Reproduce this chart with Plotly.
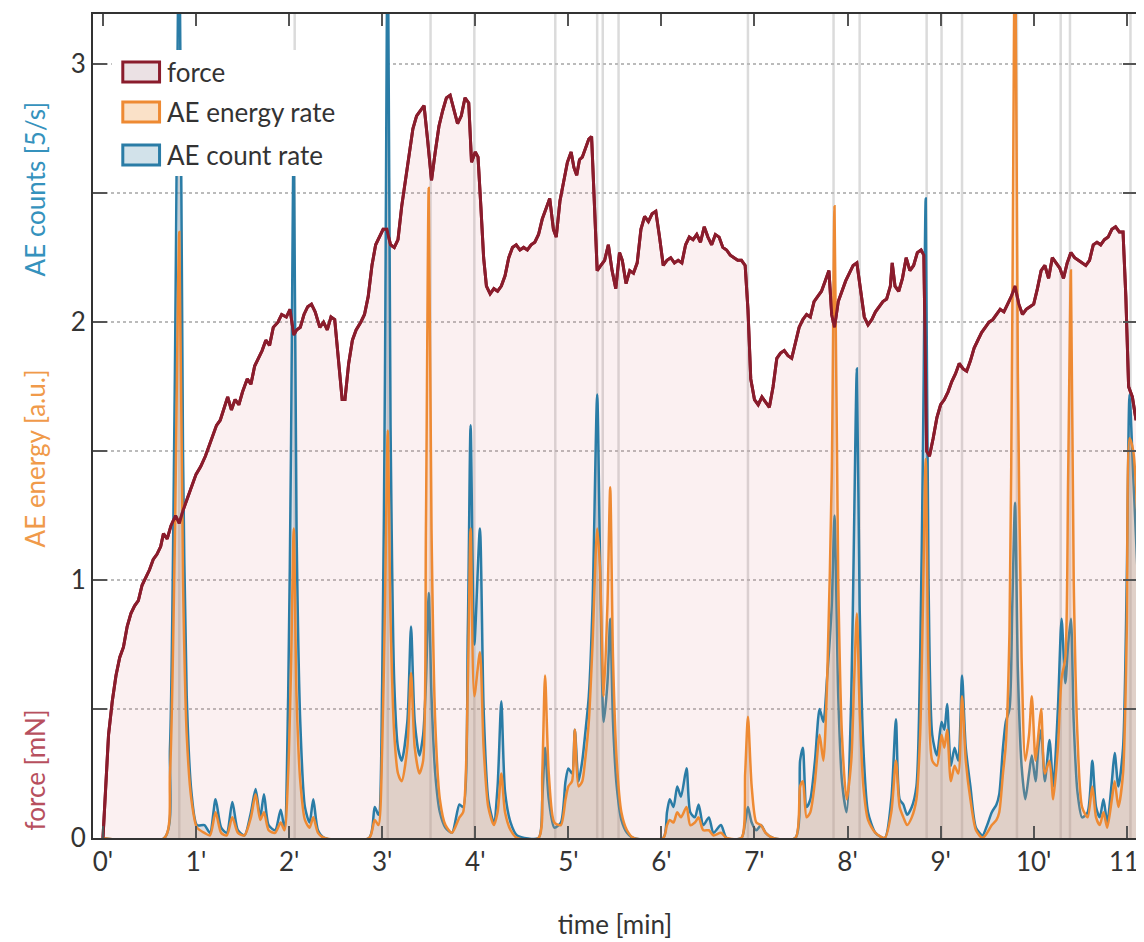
import plotly.graph_objects as go

# ---------------- data ----------------
force_time = [
    0.00, 0.03, 0.06, 0.10, 0.14, 0.18, 0.22, 0.26, 0.30, 0.34,
    0.38, 0.42, 0.46, 0.50, 0.54, 0.58, 0.62, 0.65, 0.69, 0.73,
    0.78, 0.82, 0.86, 0.90, 0.95, 1.00, 1.05, 1.10, 1.14, 1.18,
    1.22, 1.26, 1.30, 1.34, 1.38, 1.42, 1.46, 1.50, 1.55, 1.59,
    1.63, 1.67, 1.71, 1.75, 1.79, 1.83, 1.88, 1.92, 1.97, 2.01,
    2.05, 2.08, 2.12, 2.16, 2.20, 2.24, 2.28, 2.33, 2.37, 2.41,
    2.45, 2.49, 2.53, 2.57, 2.60, 2.64, 2.68, 2.72, 2.77, 2.81,
    2.85, 2.89, 2.93, 2.97, 3.01, 3.05, 3.09, 3.13, 3.17, 3.21,
    3.25, 3.29, 3.33, 3.37, 3.41, 3.45, 3.49, 3.53, 3.57, 3.61,
    3.65, 3.69, 3.73, 3.77, 3.81, 3.85, 3.89, 3.93, 3.96, 4.00,
    4.03, 4.06, 4.09, 4.12, 4.16, 4.20, 4.24, 4.28, 4.32, 4.36,
    4.40, 4.44, 4.48, 4.52, 4.56, 4.60, 4.64, 4.68, 4.72, 4.76,
    4.80, 4.84, 4.87, 4.91, 4.95, 4.99, 5.03, 5.06, 5.09, 5.12,
    5.15, 5.19, 5.22, 5.25, 5.28, 5.31, 5.35, 5.39, 5.43, 5.47,
    5.51, 5.55, 5.58, 5.62, 5.66, 5.70, 5.74, 5.78, 5.82, 5.86,
    5.90, 5.94, 5.98, 6.02, 6.06, 6.10, 6.14, 6.18, 6.22, 6.26,
    6.30, 6.34, 6.38, 6.42, 6.46, 6.50, 6.54, 6.58, 6.62, 6.66,
    6.70, 6.74, 6.78, 6.82, 6.86, 6.90, 6.93, 6.96, 7.00, 7.04,
    7.08, 7.12, 7.16, 7.20, 7.24, 7.28, 7.32, 7.36, 7.40, 7.44,
    7.48, 7.52, 7.56, 7.60, 7.64, 7.68, 7.72, 7.76, 7.80, 7.83,
    7.86, 7.90, 7.94, 7.98, 8.02, 8.06, 8.10, 8.14, 8.18, 8.22,
    8.26, 8.30, 8.34, 8.38, 8.42, 8.46, 8.48, 8.51, 8.55, 8.59,
    8.63, 8.67, 8.71, 8.75, 8.79, 8.82, 8.85, 8.88, 8.92, 8.96,
    9.00, 9.04, 9.08, 9.12, 9.16, 9.20, 9.24, 9.28, 9.32, 9.36,
    9.40, 9.44, 9.48, 9.52, 9.56, 9.60, 9.64, 9.68, 9.72, 9.76,
    9.80, 9.84, 9.88, 9.92, 9.96, 10.00, 10.04, 10.08, 10.12, 10.16,
    10.20, 10.24, 10.28, 10.32, 10.36, 10.40, 10.44, 10.48, 10.52, 10.56,
    10.60, 10.64, 10.68, 10.72, 10.76, 10.80, 10.84, 10.88, 10.92, 10.96,
    10.99, 11.02, 11.06, 11.10,
]
force_mN = [
    0.00, 0.22, 0.40, 0.53, 0.63, 0.70, 0.74, 0.82, 0.87, 0.90,
    0.92, 0.98, 1.01, 1.04, 1.08, 1.10, 1.13, 1.18, 1.16, 1.21,
    1.25, 1.22, 1.27, 1.31, 1.36, 1.41, 1.44, 1.48, 1.52, 1.56,
    1.60, 1.62, 1.67, 1.71, 1.66, 1.70, 1.68, 1.73, 1.78, 1.76,
    1.83, 1.86, 1.89, 1.93, 1.91, 1.98, 2.00, 2.03, 2.02, 2.05,
    1.95, 1.97, 1.98, 2.03, 2.06, 2.07, 2.04, 1.98, 2.00, 1.97,
    2.02, 2.01, 1.85, 1.70, 1.70, 1.84, 1.93, 1.97, 2.00, 2.03,
    2.10, 2.22, 2.30, 2.33, 2.36, 2.36, 2.30, 2.29, 2.32, 2.45,
    2.55, 2.65, 2.75, 2.80, 2.82, 2.84, 2.70, 2.55, 2.66, 2.76,
    2.82, 2.87, 2.88, 2.82, 2.77, 2.80, 2.87, 2.85, 2.62, 2.66,
    2.64, 2.45, 2.25, 2.14, 2.11, 2.13, 2.12, 2.14, 2.18, 2.25,
    2.29, 2.30, 2.28, 2.29, 2.28, 2.30, 2.31, 2.34, 2.40, 2.44,
    2.48, 2.36, 2.33, 2.47, 2.55, 2.62, 2.66, 2.60, 2.57, 2.63,
    2.64, 2.68, 2.71, 2.72, 2.45, 2.20, 2.22, 2.24, 2.30, 2.20,
    2.13, 2.27, 2.24, 2.15, 2.20, 2.19, 2.23, 2.36, 2.41, 2.39,
    2.42, 2.43, 2.33, 2.22, 2.24, 2.25, 2.23, 2.24, 2.23, 2.30,
    2.33, 2.32, 2.34, 2.31, 2.37, 2.33, 2.30, 2.34, 2.33, 2.29,
    2.28, 2.26, 2.25, 2.24, 2.24, 2.22, 2.05, 1.78, 1.70, 1.68,
    1.71, 1.69, 1.67, 1.75, 1.86, 1.88, 1.89, 1.87, 1.86, 1.92,
    1.98, 2.01, 2.03, 2.02, 2.08, 2.10, 2.12, 2.16, 2.20, 2.03,
    1.98, 2.08, 2.12, 2.16, 2.19, 2.22, 2.23, 2.12, 2.02, 1.99,
    2.01, 2.04, 2.06, 2.08, 2.09, 2.14, 2.23, 2.14, 2.12, 2.17,
    2.25, 2.20, 2.22, 2.27, 2.28, 2.26, 1.50, 1.48, 1.55, 1.63,
    1.68, 1.70, 1.73, 1.77, 1.80, 1.84, 1.82, 1.81, 1.85, 1.90,
    1.93, 1.96, 1.98, 2.00, 2.01, 2.03, 2.05, 2.04, 2.07, 2.10,
    2.14, 2.07, 2.03, 2.05, 2.06, 2.07, 2.13, 2.20, 2.22, 2.17,
    2.25, 2.23, 2.21, 2.17, 2.23, 2.27, 2.25, 2.24, 2.23, 2.22,
    2.24, 2.30, 2.31, 2.30, 2.32, 2.33, 2.36, 2.37, 2.35, 2.35,
    2.10, 1.75, 1.71, 1.62,
]

ae_time = [
    0.00, 0.66, 0.72, 0.77, 0.82, 0.86, 0.90, 0.95, 1.01, 1.09,
    1.15, 1.21, 1.27, 1.33, 1.39, 1.45, 1.52, 1.59, 1.64, 1.69,
    1.73, 1.78, 1.85, 1.91, 1.95, 1.99, 2.02, 2.05, 2.08, 2.12,
    2.17, 2.22, 2.26, 2.31, 2.38, 2.86, 2.92, 2.96, 3.00, 3.03,
    3.06, 3.09, 3.13, 3.17, 3.21, 3.27, 3.31, 3.35, 3.40, 3.44,
    3.47, 3.50, 3.53, 3.57, 3.62, 3.68, 3.75, 3.83, 3.87, 3.92,
    3.95, 3.99, 4.05, 4.09, 4.14, 4.20, 4.24, 4.28, 4.32, 4.38,
    4.45, 4.68, 4.72, 4.75, 4.79, 4.85, 4.92, 4.97, 5.00, 5.04,
    5.07, 5.11, 5.15, 5.18, 5.22, 5.26, 5.31, 5.34, 5.38, 5.42,
    5.45, 5.48, 5.52, 5.57, 5.63, 5.70, 6.02, 6.06, 6.09, 6.13,
    6.17, 6.21, 6.27, 6.31, 6.36, 6.40, 6.45, 6.51, 6.56, 6.64,
    6.70, 6.86, 6.90, 6.93, 6.97, 7.02, 7.07, 7.12, 7.20, 7.44,
    7.49, 7.52, 7.56, 7.60, 7.65, 7.70, 7.74, 7.78, 7.83, 7.86,
    7.90, 7.94, 7.99, 8.04, 8.07, 8.10, 8.13, 8.17, 8.22, 8.30,
    8.40, 8.47, 8.52, 8.56, 8.60, 8.64, 8.69, 8.74, 8.78, 8.81,
    8.84, 8.87, 8.91, 8.96, 9.01, 9.04, 9.07, 9.11, 9.15, 9.19,
    9.23, 9.27, 9.32, 9.38, 9.45, 9.50, 9.55, 9.60, 9.63, 9.67,
    9.70, 9.74, 9.77, 9.80, 9.83, 9.87, 9.91, 9.95, 9.98, 10.02,
    10.05, 10.08, 10.12, 10.17, 10.21, 10.26, 10.30, 10.34, 10.37, 10.40,
    10.43, 10.47, 10.52, 10.58, 10.63, 10.67, 10.71, 10.75, 10.79, 10.84,
    10.87, 10.91, 10.96, 11.00, 11.03, 11.07, 11.12,
]
ae_energy = [
    0.00, 0.00, 0.25, 1.10, 2.35, 1.00, 0.40, 0.15, 0.04, 0.02,
    0.01, 0.10, 0.02, 0.01, 0.08, 0.02, 0.01, 0.08, 0.17, 0.07,
    0.10, 0.03, 0.02, 0.06, 0.03, 0.25, 0.65, 1.20, 0.55, 0.22,
    0.07, 0.04, 0.08, 0.02, 0.00, 0.00, 0.07, 0.05, 0.35, 0.90,
    1.58, 0.85, 0.40, 0.25, 0.22, 0.35, 0.64, 0.35, 0.25, 0.30,
    1.20, 2.52, 1.20, 0.45, 0.15, 0.05, 0.02, 0.08, 0.10, 0.60,
    1.20, 0.55, 0.72, 0.35, 0.12, 0.05, 0.10, 0.25, 0.10, 0.03,
    0.00, 0.00, 0.25, 0.63, 0.25, 0.06, 0.05, 0.15, 0.20, 0.22,
    0.42, 0.20, 0.22, 0.30, 0.45, 0.75, 1.20, 1.05, 0.55, 0.90,
    1.36, 0.70, 0.30, 0.10, 0.03, 0.00, 0.00, 0.05, 0.07, 0.06,
    0.10, 0.08, 0.12, 0.05, 0.06, 0.08, 0.03, 0.03, 0.01, 0.02,
    0.00, 0.00, 0.25, 0.47, 0.20, 0.06, 0.05, 0.02, 0.00, 0.00,
    0.20, 0.22, 0.08, 0.10, 0.22, 0.40, 0.30, 0.60, 1.40, 2.45,
    1.00, 0.40, 0.15, 0.30, 0.60, 0.87, 0.50, 0.20, 0.07, 0.02,
    0.00, 0.10, 0.30, 0.12, 0.08, 0.05, 0.08, 0.15, 0.40, 0.90,
    1.47, 0.65, 0.30, 0.28, 0.40, 0.35, 0.42, 0.22, 0.28, 0.25,
    0.55, 0.30, 0.15, 0.03, 0.00, 0.02, 0.05, 0.07, 0.10, 0.25,
    0.36, 0.80, 2.00, 3.60, 1.80, 0.70, 0.30, 0.40, 0.55, 0.30,
    0.40, 0.50, 0.25, 0.30, 0.15, 0.35, 0.62, 0.70, 1.40, 2.20,
    1.00, 0.40, 0.12, 0.08, 0.20, 0.08, 0.05, 0.10, 0.04, 0.15,
    0.22, 0.12, 0.25, 0.80, 1.55, 1.50, 1.20,
]
ae_count = [
    0.00, 0.00, 0.35, 1.70, 3.60, 1.50, 0.55, 0.18, 0.05, 0.05,
    0.02, 0.15, 0.04, 0.02, 0.14, 0.03, 0.01, 0.10, 0.19, 0.08,
    0.17, 0.05, 0.03, 0.11, 0.04, 0.55, 1.50, 2.75, 1.20, 0.45,
    0.12, 0.06, 0.15, 0.03, 0.00, 0.00, 0.12, 0.09, 0.60, 1.80,
    3.60, 1.60, 0.60, 0.35, 0.30, 0.45, 0.82, 0.45, 0.32, 0.40,
    0.60, 0.95, 0.55, 0.25, 0.10, 0.04, 0.02, 0.13, 0.12, 0.80,
    1.60, 0.75, 1.20, 0.50, 0.15, 0.06, 0.20, 0.53, 0.18, 0.06,
    0.01, 0.00, 0.15, 0.35, 0.15, 0.04, 0.06, 0.22, 0.27, 0.25,
    0.42, 0.22, 0.30, 0.40, 0.55, 0.90, 1.72, 1.10, 0.45, 0.60,
    0.85, 0.45, 0.20, 0.07, 0.02, 0.00, 0.00, 0.10, 0.15, 0.12,
    0.20, 0.16, 0.27, 0.10, 0.08, 0.13, 0.05, 0.08, 0.02, 0.05,
    0.00, 0.00, 0.06, 0.12, 0.06, 0.03, 0.05, 0.02, 0.00, 0.00,
    0.30, 0.35, 0.12, 0.15, 0.30, 0.50, 0.45, 0.62, 0.90, 1.25,
    0.55, 0.22, 0.10, 0.55, 1.20, 1.82, 0.90, 0.35, 0.10, 0.02,
    0.00, 0.15, 0.46, 0.15, 0.13, 0.09, 0.12, 0.20, 0.70, 1.50,
    2.48, 1.00, 0.40, 0.32, 0.45, 0.42, 0.52, 0.28, 0.35, 0.30,
    0.63, 0.35, 0.20, 0.04, 0.01, 0.05, 0.10, 0.13, 0.17, 0.35,
    0.45, 0.50, 0.90, 1.30, 0.65, 0.28, 0.15, 0.25, 0.32, 0.22,
    0.35, 0.42, 0.22, 0.38, 0.20, 0.50, 0.85, 0.60, 0.75, 0.85,
    0.45, 0.18, 0.08, 0.10, 0.30, 0.12, 0.08, 0.15, 0.06, 0.22,
    0.33, 0.20, 0.35, 1.00, 1.72, 1.40, 1.00,
]

event_times = [0.82, 2.06, 3.06, 3.52, 3.99, 4.86, 5.31, 5.37, 5.54, 6.93,
               7.85, 8.13, 8.85, 9.01, 9.23, 9.82, 10.29, 10.39, 11.04]

x_tick_vals = list(range(0, 12))
x_tick_text = ["0'", "1'", "2'", "3'", "4'", "5'", "6'", "7'", "8'", "9'", "10'", "11'"]
y_tick_vals = [0, 0.5, 1, 1.5, 2, 2.5, 3]
y_tick_text = ["0", "", "1", "", "2", "", "3"]

legend_labels = ["force", "AE energy rate", "AE count rate"]

# ---------------- styles ----------------
FORCE = "#8a1c2c"
ORANGE = "#ee8a33"
BLUE = "#2a7ca6"
FONT = "Lato"
FORCE_FILL = "rgba(215,110,120,0.10)"
COUNT_FILL = "rgba(100,150,180,0.20)"
ENERGY_FILL = "rgba(240,160,100,0.22)"

# figure placed in page with 8px body margin -> size so it fits the window
W, H = 1136, 934
L, R, T, B = 85, 0, 6, 104
PW, PH = W - L - R, H - T - B


def px2paper(fx, fy):
    return (fx - L) / PW, (H - B - fy) / PH


fig = go.Figure()

fig.add_trace(go.Scatter(
    x=force_time, y=force_mN, name="force", mode="lines",
    line=dict(color=FORCE, width=3),
    fill="tozeroy", fillcolor=FORCE_FILL, showlegend=False,
))
fig.add_trace(go.Scatter(
    x=ae_time, y=ae_count, name="AE count rate", mode="lines",
    line=dict(color=BLUE, width=2.5, shape="spline", smoothing=0.7),
    fill="tozeroy", fillcolor=COUNT_FILL, showlegend=False,
))
fig.add_trace(go.Scatter(
    x=ae_time, y=ae_energy, name="AE energy rate", mode="lines",
    line=dict(color=ORANGE, width=2.5, shape="spline", smoothing=0.7),
    fill="tozeroy", fillcolor=ENERGY_FILL, showlegend=False,
))
fig.add_trace(go.Scatter(
    x=force_time, y=force_mN, mode="lines", showlegend=False,
    line=dict(color=FORCE, width=3), hoverinfo="skip",
))

for t in event_times:
    fig.add_vline(x=t, line=dict(color="rgba(190,190,190,0.55)", width=2.5), layer="below")

axis_common = dict(
    showline=True, linecolor="#333", linewidth=2, mirror="ticks",
    ticks="inside", tickcolor="#555", tickwidth=2,
    tickfont=dict(family=FONT, size=26, color="#333"),
    zeroline=False,
)

fig.update_xaxes(
    range=[-0.107, 11.11], tickvals=x_tick_vals, ticktext=x_tick_text,
    ticklen=12, showgrid=False, ticklabeloverflow="allow",
    title=dict(text="time [min]", font=dict(family=FONT, size=26, color="#333"), standoff=40),
    **axis_common,
)
fig.update_yaxes(
    range=[0, 3.195], tickvals=y_tick_vals, ticktext=y_tick_text,
    ticklen=14, showgrid=True, gridcolor="#bbbbbb", griddash="dot", gridwidth=1.5,
    **axis_common,
)

# y-axis multi-coloured title
for text, fy, col in [("force [mN]", 762, "#b7505e"),
                      ("AE energy [a.u.]", 450, "#f09a4a"),
                      ("AE counts [5/s]", 181, "#3592bd")]:
    px_, py_ = px2paper(27, fy)
    fig.add_annotation(
        text=text, xref="paper", yref="paper", x=px_, y=py_,
        textangle=-90, showarrow=False, xanchor="center", yanchor="middle",
        font=dict(family=FONT, size=26, color=col),
    )

# hand-drawn legend (box icons as in the reference)
bx0, by1 = px2paper(104, 42)
bx1, by0 = px2paper(378, 168)
fig.add_shape(type="rect", xref="paper", yref="paper", x0=bx0, x1=bx1, y0=by0, y1=by1,
              fillcolor="white", line=dict(width=0), layer="above")
legend_rows = [(64, FORCE, "rgba(235,225,228,1)"),
               (104, ORANGE, "rgba(250,225,200,1)"),
               (147, BLUE, "rgba(210,226,234,1)")]
for label, (cy, lc, fc) in zip(legend_labels, legend_rows):
    ix0, iy1 = px2paper(115, cy - 10)
    ix1, iy0 = px2paper(152, cy + 10)
    fig.add_shape(type="rect", xref="paper", yref="paper", x0=ix0, x1=ix1, y0=iy0, y1=iy1,
                  fillcolor=fc, line=dict(color=lc, width=3), layer="above")
    tx, ty = px2paper(157, cy)
    fig.add_annotation(text=label, xref="paper", yref="paper", x=tx, y=ty,
                       xanchor="left", yanchor="middle", showarrow=False,
                       font=dict(family=FONT, size=26, color="#333"))

fig.update_layout(
    width=W, height=H,
    margin=dict(l=L, r=R, t=T, b=B),
    plot_bgcolor="white", paper_bgcolor="white",
    showlegend=False,
)

fig.write_html("out.html")
